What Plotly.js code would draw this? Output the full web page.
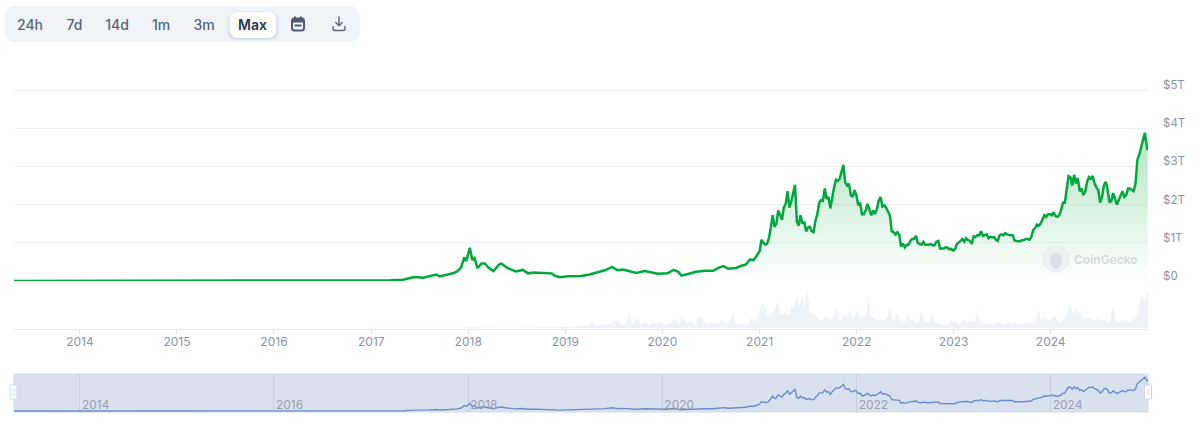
<!DOCTYPE html>
<html>
<head>
<meta charset="utf-8">
<script src="https://cdn.plot.ly/plotly-3.0.1.min.js"></script>
<style>
html,body{margin:0;padding:0;background:#fff;width:1200px;height:426px;overflow:hidden;font-family:Inter,"Noto Sans",sans-serif}
#chart{position:absolute;left:0;top:0;width:1200px;height:426px}
#bar{position:absolute;left:5px;top:6px;width:355px;height:36px;background:#f0f3f8;border-radius:10px}
#bar span{position:absolute;top:6px;height:26px;line-height:26px;font-size:14px;font-weight:500;color:#58667e;transform:translateX(-50%);white-space:nowrap}
#bar span.on{width:47px;text-align:center;background:#fff;border-radius:8px;color:#2d3748;font-weight:600;box-shadow:0 1px 3px rgba(30,40,70,.2)}
#bar svg{position:absolute;top:10px}
</style>
</head>
<body>
<div id="chart"></div>
<div id="bar">
  <span style="left:25px">24h</span><span style="left:69.5px">7d</span><span style="left:112px">14d</span><span style="left:156px">1m</span><span style="left:199px">3m</span><span class="on" style="left:247.5px">Max</span>
  <svg style="left:286px" width="14" height="16" viewBox="0 0 14 16"><rect x="1" y="2.5" width="12" height="12" rx="2.5" fill="none" stroke="#4f5b70" stroke-width="2"/><rect x="1" y="2.5" width="12" height="4" fill="#4f5b70"/><rect x="3" y="0.5" width="2" height="3" fill="#4f5b70"/><rect x="9" y="0.5" width="2" height="3" fill="#4f5b70"/><rect x="3.5" y="8.5" width="7" height="2" fill="#4f5b70"/></svg>
  <svg style="left:327px" width="14" height="16" viewBox="0 0 14 16" fill="none" stroke="#58667e" stroke-width="1.4" stroke-linecap="round" stroke-linejoin="round"><path d="M7 1v8.5M3.8 6.5 7 9.7l3.2-3.2M1 10.5v2a2 2 0 0 0 2 2h8a2 2 0 0 0 2-2v-2"/></svg>
</div>
<script>
var earlyCapDates = [
"2013-04-28","2013-10-01","2013-12-01","2014-03-01","2014-12-01","2015-06-01","2016-01-01","2016-07-01","2017-01-01","2017-03-15","2017-05-01","2017-06-12","2017-07-15","2017-08-05","2017-09-02","2017-09-15","2017-10-20","2017-11-08","2017-11-20","2017-12-05","2017-12-17","2017-12-24","2018-01-07","2018-01-16","2018-01-24","2018-02-05","2018-02-20","2018-03-04","2018-03-18","2018-04-06","2018-04-25","2018-05-05","2018-05-28","2018-06-29","2018-07-25","2018-08-14","2018-09-05","2018-10-10","2018-11-10","2018-11-25","2018-12-14","2019-01-10","2019-03-01","2019-04-02","2019-05-10","2019-05-30","2019-06-26","2019-07-16","2019-08-06","2019-09-01","2019-09-25","2019-10-27","2019-12-15","2020-01-20","2020-02-13","2020-03-01","2020-03-13","2020-04-10","2020-05-07","2020-06-10","2020-07-10","2020-08-01","2020-08-18","2020-09-05","2020-10-05","2020-10-25","2020-11-10","2020-11-25","2020-12-10"
];
var earlyCapValues = [
0.0015,0.002,0.012,0.008,0.005,0.003,0.006,0.011,0.018,0.022,0.035,0.105,0.085,0.13,0.17,0.12,0.175,0.21,0.25,0.35,0.62,0.52,0.87,0.55,0.6,0.34,0.46,0.46,0.35,0.26,0.42,0.46,0.34,0.25,0.29,0.2,0.22,0.21,0.2,0.13,0.1,0.125,0.13,0.17,0.25,0.28,0.37,0.28,0.3,0.26,0.21,0.26,0.19,0.2,0.29,0.24,0.14,0.19,0.24,0.27,0.27,0.35,0.39,0.32,0.34,0.4,0.43,0.56,0.55
];
var cap2021 = [0.78,1.08,1.0,0.95,0.98,1.12,1.4,1.72,1.42,1.5,1.85,1.72,1.6,1.92,2.02,2.35,1.92,2.08,2.32,2.52,1.55,1.45,1.72,1.5,1.55,1.3,1.4,1.42,1.3,1.28,1.58,1.75,2.05,2.12,2.1,2.42,2.15,2.2,1.9,2.22,2.45,2.65,2.62,2.68,2.85,3.04,2.58,2.5,2.55,2.25,2.2,2.38,2.25];
var cap2022 = [1.98,2.05,1.75,1.75,1.85,2.02,1.85,1.72,1.85,1.75,1.88,2.1,2.2,1.95,1.98,1.92,1.82,1.72,1.3,1.28,1.22,1.28,1.22,0.9,0.98,0.88,0.95,0.95,1.05,1.1,1.1,1.18,1.0,0.98,0.95,1.02,0.95,0.95,0.95,0.97,0.93,0.94,1.03,1.05,0.85,0.85,0.85,0.88,0.87,0.83,0.84,0.8];
var cap2023 = [0.83,0.97,1.0,1.05,1.1,1.03,1.12,1.07,1.05,0.97,1.17,1.15,1.2,1.2,1.3,1.18,1.2,1.22,1.12,1.16,1.14,1.15,1.08,1.05,1.2,1.22,1.2,1.25,1.22,1.2,1.2,1.2,1.06,1.05,1.05,1.04,1.07,1.07,1.1,1.1,1.08,1.15,1.33,1.38,1.48,1.45,1.5,1.6,1.72,1.68,1.75,1.75];
var cap2024 = [1.72,1.8,1.7,1.68,1.72,1.85,2.05,2.05,2.45,2.75,2.72,2.5,2.78,2.55,2.7,2.35,2.42,2.25,2.35,2.6,2.72,2.68,2.75,2.55,2.45,2.38,2.05,2.2,2.5,2.6,2.4,2.05,2.1,2.3,2.15,2.0,2.12,2.25,2.35,2.2,2.25,2.42,2.42,2.38,2.35,2.55,3.17,3.3,3.5,3.65,3.88,3.55];
var capLast = 3.42;
var earlyVolDates = ["2013-04-28","2017-01-01","2017-06-01","2017-12-10","2018-01-08","2018-03-01","2018-07-01","2018-12-01"];
var earlyVolValues = [0,1,3,10,22,15,9,14];
var vol2019 = [22,25,22,27,27,32,27,32,30,36,90,45,38,40,68,50,68,55,126,90,112,63,45,60,248,60,80,171,70,60,99,55,50,99,60,70,112];
var vol2020 = [60,55,90,70,157,80,60,171,110,75,112,90,60,171,157,100,70,65,81,60,70,85,121,75,90,110,234,70,68,55,81,60,70,157,90,110,248];
var vol2021 = [360,315,170,180,205,300,382,190,200,225,170,337,280,472,300,450,270,571,225,190,180,140,112,130,180,120,135,150,306,110,130,180,170,247,150,200,270];
var vol2022 = [130,200,150,472,130,157,110,135,130,125,150,292,110,140,225,112,100,90,225,112,130,80,90,247,110,90,100,225,90,80,70,60,45,50,135,90,100];
var vol2023 = [45,60,135,70,90,112,80,270,68,65,60,68,75,70,85,100,70,60,75,112,70,90,70,60,68,85,80,90,60,75,279,110,157,120,100,135,180];
var vol2024 = [130,90,100,135,270,360,220,270,200,247,135,140,157,120,110,130,135,100,120,90,110,337,110,90,112,120,100,95,110,130,157,337,472,360,540,427,225];
var yearTicks = ["2014-01-01","2015-01-01","2016-01-01","2017-01-01","2018-01-01","2019-01-01","2020-01-01","2021-01-01","2022-01-01","2023-01-01","2024-01-01"];
var yearLabels = ["2014","2015","2016","2017","2018","2019","2020","2021","2022","2023","2024"];
var navTicks = ["2014-01-01","2016-01-01","2018-01-01","2020-01-01","2022-01-01","2024-01-01"];
var navLabels = ["2014","2016","2018","2020","2022","2024"];
var capTicks = [0,1,2,3,4,5];
var capLabels = ["$0","$1T","$2T","$3T","$4T","$5T"];

function stepDates(start,n,days){
  var out=[],t=Date.parse(start+"T00:00:00Z");
  for(var i=0;i<n;i++){out.push(new Date(t+i*days*864e5).toISOString().slice(0,10));}
  return out;
}
var weeklyCap=cap2021.concat(cap2022,cap2023,cap2024);
var capDates=earlyCapDates.concat(stepDates("2021-01-01",weeklyCap.length,7),["2024-12-31"]);
var capValues=earlyCapValues.concat(weeklyCap,[capLast]);
var tenDayVol=vol2019.concat(vol2020,vol2021,vol2022,vol2023,vol2024);
var volDates=earlyVolDates.concat(stepDates("2019-01-01",tenDayVol.length,10));
var volValues=earlyVolValues.concat(tenDayVol);

var W=1200,H=426;
function fx(p){return p/W;}
function fy(p){return 1-p/H;}
var xDomain=[fx(14),fx(1148)];
var xRange=["2013-04-28","2025-01-01"];
var labelColor="#8b94a6";
var font='Inter, "Noto Sans", sans-serif';

var traces=[
 {type:"scatter",mode:"lines",x:volDates,y:volValues,xaxis:"x",yaxis:"y2",fill:"tozeroy",fillcolor:"#eff2f6",line:{width:0,color:"#eff2f6"},hoverinfo:"skip"},
 {type:"scatter",mode:"lines",x:capDates,y:capValues,xaxis:"x",yaxis:"y",fill:"tozeroy",cliponaxis:false,line:{color:"#00a83e",width:2.5},
  fillgradient:{type:"vertical",colorscale:[[0,"rgba(0,168,62,0)"],[1,"rgba(0,168,62,0.3)"]]},hoverinfo:"skip"},
 {type:"scatter",mode:"lines",x:capDates,y:capValues,xaxis:"x3",yaxis:"y3",line:{color:"#6b8ccc",width:1.4},hoverinfo:"skip"}
];

function rect(x0,y0,x1,y1,fill,line){return {type:"rect",xref:"paper",yref:"paper",x0:fx(x0),x1:fx(x1),y0:fy(y0),y1:fy(y1),fillcolor:fill,line:{color:line||fill,width:line?1:0},layer:"between"};}
var shapes=[
 rect(14,374,1148,412,"#d9e0ee","#d5dcea"),
 {type:"circle",xref:"paper",yref:"paper",x0:fx(1043),x1:fx(1069),y0:fy(246),y1:fy(272),fillcolor:"rgba(228,231,235,0.45)",line:{color:"rgba(225,228,232,0.7)",width:1},layer:"above"},
 {type:"circle",xref:"paper",yref:"paper",x0:fx(1050),x1:fx(1062),y0:fy(253),y1:fy(269),fillcolor:"rgba(208,212,217,0.55)",line:{width:0},layer:"above"},
 rect(10,385,17,399,"#ffffff","#cfd6e6"),
 rect(1144.5,385,1151.5,399,"#ffffff","#cfd6e6"),
 rect(12.5,388,13,396,"#c3c9d6"),rect(14.5,388,15,396,"#c3c9d6"),
 rect(1147,388,1147.5,396,"#c3c9d6"),rect(1149,388,1149.5,396,"#c3c9d6")
];
shapes.slice(3).forEach(function(s){s.layer="above";});

var layout={
 width:W,height:H,margin:{l:0,r:0,t:0,b:0},paper_bgcolor:"#fff",plot_bgcolor:"rgba(0,0,0,0)",showlegend:false,
 font:{family:font,size:12,color:labelColor},
 xaxis:{domain:xDomain,range:xRange,type:"date",anchor:"y2",tickmode:"array",tickvals:yearTicks,ticktext:yearLabels,showgrid:false,zeroline:false,
   showline:true,linecolor:"#e6e9ee",linewidth:1,ticks:"outside",ticklen:5,tickcolor:"#e0e4ea",tickfont:{size:12,color:labelColor},ticklabelstandoff:-3},
 yaxis:{domain:[fy(281),fy(88.1)],range:[0,5.05],anchor:"x",side:"right",tickmode:"array",tickvals:capTicks,ticktext:capLabels,showgrid:true,gridcolor:"#eff2f5",gridwidth:1,zeroline:false,
   showline:false,ticks:"",tickfont:{size:11.5,color:labelColor},ticklabelstandoff:14,ticklabelshift:-5},
 yaxis2:{domain:[fy(328.5),fy(288)],range:[0,571],anchor:"x",visible:false,fixedrange:true},
 xaxis3:{domain:xDomain,range:xRange,type:"date",anchor:"y3",tickmode:"array",tickvals:navTicks,ticktext:navLabels,showgrid:true,gridcolor:"#c6cfe0",gridwidth:1,zeroline:false,showline:false,ticks:"",
   ticklabelposition:"inside right",tickfont:{size:12,color:"#9aa0b0"},ticklabelstandoff:-5,ticklabelshift:2},
 yaxis3:{domain:[fy(412),fy(374)],range:[-0.11,4.24],anchor:"x3",visible:false,fixedrange:true},
 shapes:shapes,
 annotations:[
  {xref:"paper",yref:"paper",x:fx(1072),y:fy(259),xanchor:"left",yanchor:"middle",text:"CoinGecko",showarrow:false,font:{family:font,size:12,color:"#d6d9dd",weight:600}}
 ]
};
Plotly.newPlot("chart",traces,layout,{staticPlot:true,displayModeBar:false});
</script>
</body>
</html>
